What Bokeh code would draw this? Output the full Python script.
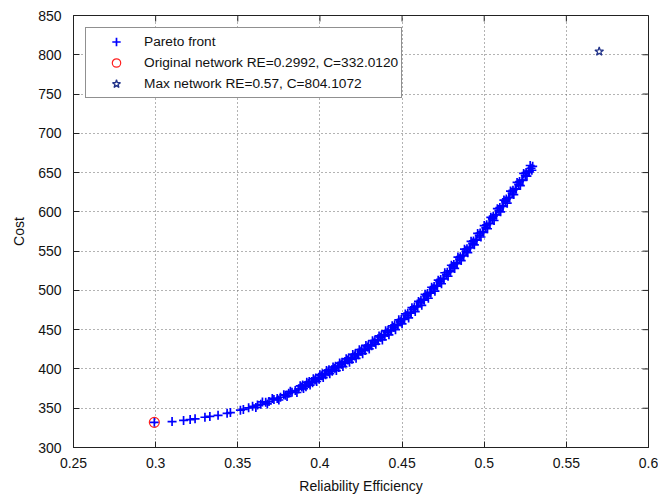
import math
from bokeh.plotting import figure
from bokeh.models import FixedTicker, Range1d
from bokeh.embed import file_html
from bokeh.resources import INLINE

# ---- data ----
pareto_re_a = [
    0.2992, 0.3100, 0.3170, 0.3210, 0.3240, 0.3300, 0.3330, 0.3380, 0.3435, 0.3455,
    0.3516, 0.3534, 0.3566, 0.3590, 0.3620, 0.3640, 0.3670, 0.3690, 0.3720, 0.3740,
    0.3760, 0.3790, 0.3810, 0.3830, 0.3850, 0.3870, 0.3890, 0.3910, 0.3930, 0.3950,
    0.3970, 0.3990, 0.4010, 0.4030, 0.4050, 0.4070, 0.4090, 0.4110, 0.4130, 0.4150,
    0.4170, 0.4190, 0.4210, 0.4230, 0.4250, 0.4270, 0.4290, 0.4310, 0.4330, 0.4350,
    0.4370, 0.4390, 0.4410, 0.4430, 0.4450, 0.4470, 0.4490, 0.4510, 0.4530, 0.4550,
    0.4570, 0.4590, 0.4610, 0.4630, 0.4650, 0.4670, 0.4690, 0.4710, 0.4730, 0.4750,
    0.4770, 0.4790, 0.4810, 0.4830, 0.4850, 0.4870, 0.4890, 0.4910, 0.4930, 0.4950,
    0.4970, 0.4990, 0.5010, 0.5030, 0.5050, 0.5070, 0.5090, 0.5110, 0.5130, 0.5150,
    0.5170, 0.5190, 0.5210, 0.5230, 0.5250, 0.5270, 0.5285, 0.5295,
]
pareto_cost_a = [
    332.0, 333.0, 334.5, 335.5, 336.5, 338.5, 339.5, 341.0, 343.5, 344.5,
    347.5, 348.5, 350.5, 352.5, 354.0, 355.0, 357.5, 358.5, 361.0, 362.5,
    364.0, 366.5, 369.0, 370.5, 372.5, 374.5, 377.0, 379.0, 381.5, 384.0,
    386.0, 388.5, 391.5, 394.0, 396.5, 398.5, 401.0, 403.5, 406.0, 409.0,
    411.5, 414.0, 416.5, 419.5, 422.5, 425.0, 428.0, 431.0, 434.0, 437.0,
    440.5, 443.5, 446.5, 449.5, 453.0, 456.5, 460.0, 464.0, 468.0, 472.0,
    476.0, 480.0, 484.5, 488.5, 493.0, 497.5, 502.0, 506.5, 511.0, 515.5,
    520.0, 525.0, 530.0, 535.0, 540.0, 545.0, 550.0, 555.0, 560.0, 565.0,
    570.0, 575.0, 580.0, 585.5, 591.0, 596.5, 602.0, 607.5, 613.0, 618.5,
    624.0, 629.5, 635.0, 640.5, 646.5, 652.0, 655.5, 658.0,
]
pareto_re_b = [
    0.3610, 0.3650, 0.3680, 0.3710, 0.3750, 0.3780, 0.3800, 0.3820, 0.3860, 0.3880,
    0.3900, 0.3920, 0.3940, 0.3960, 0.3980, 0.4000, 0.4020, 0.4040, 0.4060, 0.4080,
    0.4100, 0.4120, 0.4140, 0.4160, 0.4180, 0.4200, 0.4220, 0.4240, 0.4260, 0.4280,
    0.4300, 0.4320, 0.4340, 0.4360, 0.4380, 0.4400, 0.4420, 0.4440, 0.4460, 0.4480,
    0.4500, 0.4520, 0.4540, 0.4560, 0.4580, 0.4600, 0.4620, 0.4640, 0.4660, 0.4680,
    0.4700, 0.4720, 0.4740, 0.4760, 0.4780, 0.4800, 0.4820, 0.4840, 0.4860, 0.4880,
    0.4900, 0.4920, 0.4940, 0.4960, 0.4980, 0.5000, 0.5020, 0.5040, 0.5060, 0.5080,
    0.5100, 0.5120, 0.5140, 0.5160, 0.5180, 0.5200, 0.5220, 0.5240, 0.5260, 0.5280,
    0.5290,
]
pareto_cost_b = [
    351.0, 358.0, 355.5, 362.5, 360.5, 367.0, 365.0, 371.5, 370.0, 378.5,
    375.0, 383.0, 379.5, 387.5, 384.0, 392.5, 389.0, 398.0, 394.0, 402.5,
    398.0, 407.5, 403.0, 413.0, 408.5, 418.5, 413.5, 424.5, 419.5, 430.0,
    425.5, 436.0, 431.5, 442.0, 437.0, 448.5, 443.5, 455.0, 450.0, 462.5,
    457.5, 470.0, 465.0, 478.0, 473.0, 486.0, 481.0, 495.0, 490.0, 504.0,
    499.0, 513.0, 508.5, 522.5, 518.0, 532.0, 528.0, 542.5, 538.0, 552.5,
    548.0, 562.5, 558.0, 572.5, 568.0, 582.5, 578.5, 593.0, 589.0, 604.0,
    600.0, 615.0, 611.0, 626.5, 622.0, 637.5, 633.5, 649.0, 645.5, 659.0,
    653.0,
]
pareto_re_c = [
    0.3895, 0.3915, 0.3935, 0.3955, 0.3975, 0.3995, 0.4015, 0.4035, 0.4055, 0.4075,
    0.4095, 0.4115, 0.4135, 0.4155, 0.4175, 0.4195, 0.4215, 0.4235, 0.4255, 0.4275,
    0.4295, 0.4315, 0.4335, 0.4355, 0.4375, 0.4395, 0.4415, 0.4435, 0.4455, 0.4475,
    0.4495, 0.4515, 0.4535, 0.4555, 0.4575, 0.4595, 0.4615, 0.4635, 0.4655, 0.4675,
    0.4695, 0.4715, 0.4735, 0.4755, 0.4775, 0.4795, 0.4815, 0.4835, 0.4855, 0.4875,
    0.4895, 0.4915, 0.4935, 0.4955, 0.4975, 0.4995, 0.5015, 0.5035, 0.5055, 0.5075,
    0.5095, 0.5115, 0.5135, 0.5155, 0.5175, 0.5195, 0.5215, 0.5235, 0.5255, 0.5275,
]
pareto_cost_c = [
    379.5, 377.5, 384.0, 382.5, 388.5, 387.0, 394.0, 392.5, 399.0, 397.0,
    403.5, 402.0, 408.5, 407.5, 414.0, 412.5, 419.0, 418.0, 425.0, 423.5,
    430.5, 429.5, 436.5, 436.0, 443.0, 442.0, 449.0, 448.5, 456.0, 455.5,
    463.0, 463.0, 471.0, 471.0, 479.0, 479.0, 487.5, 487.5, 496.0, 496.5,
    505.0, 505.5, 514.0, 514.5, 523.0, 524.0, 533.0, 534.0, 543.0, 544.0,
    553.0, 554.0, 563.0, 564.0, 573.0, 574.0, 583.5, 585.0, 594.5, 596.0,
    605.5, 607.0, 616.5, 618.0, 627.5, 629.0, 638.5, 640.0, 650.0, 651.0,
]
pareto_re = pareto_re_a + pareto_re_b + pareto_re_c
pareto_cost = pareto_cost_a + pareto_cost_b + pareto_cost_c

orig_re = [0.2992]
orig_cost = [332.0120]
max_re = [0.57]
max_cost = [804.1072]

x_ticks = [0.25, 0.3, 0.35, 0.4, 0.45, 0.5, 0.55, 0.6]
x_tick_labels = ["0.25", "0.3", "0.35", "0.4", "0.45", "0.5", "0.55", "0.6"]
y_ticks = [300, 350, 400, 450, 500, 550, 600, 650, 700, 750, 800, 850]
y_tick_labels = [str(v) for v in y_ticks]
x_lim = (0.25, 0.6)
y_lim = (300, 850)

FONT = "Liberation Sans"
AX = "#222222"
TXT = "#111111"

p = figure(width=658, height=500,
           x_range=Range1d(*x_lim), y_range=Range1d(*y_lim),
           output_backend="svg", toolbar_location=None,
           min_border_left=73, min_border_right=10,
           min_border_top=15, min_border_bottom=53)

p.background_fill_color = "white"
p.border_fill_color = "white"
p.outline_line_color = AX
p.outline_line_width = 1

# grid
p.xgrid.ticker = FixedTicker(ticks=x_ticks)
p.ygrid.ticker = FixedTicker(ticks=y_ticks)
for g in (p.xgrid[0], p.ygrid[0]):
    g.grid_line_color = "#666666"
    g.grid_line_dash = "1 3"
    g.grid_line_width = 1

# inner ticks on the top and right edges of the box (clipped to the frame)
p.scatter(x_ticks, [y_lim[1]] * len(x_ticks), marker="dash", angle=math.pi / 2,
          size=12, line_color=AX, line_width=1)
p.scatter([x_lim[1]] * len(y_ticks), y_ticks, marker="dash",
          size=12, line_color=AX, line_width=1)

# data
p.scatter(pareto_re, pareto_cost, marker="cross", size=9,
          line_color="#0000ff", line_width=1.7, legend_label="Pareto front")
p.scatter(orig_re, orig_cost, marker="circle", size=10, fill_color=None,
          line_color="#ff2020", line_width=1.2,
          legend_label=f"Original network RE={orig_re[0]}, C={orig_cost[0]:.4f}")
p.scatter(max_re, max_cost, marker="star", size=9, fill_color=None,
          line_color="#23348a", line_width=1.3,
          legend_label=f"Max network RE={max_re[0]}, C={max_cost[0]:.4f}")


def style_axis(ax, ticks, labels):
    ax.ticker = FixedTicker(ticks=ticks)
    ax.major_label_overrides = {t: l for t, l in zip(ticks, labels)}
    ax.axis_line_color = AX
    ax.major_tick_line_color = AX
    ax.major_tick_in = 6
    ax.major_tick_out = 0
    ax.minor_tick_line_color = None
    ax.major_label_text_font = FONT
    ax.major_label_text_font_size = "14px"
    ax.major_label_text_color = TXT
    ax.axis_label_text_font = FONT
    ax.axis_label_text_font_size = "14px"
    ax.axis_label_text_font_style = "normal"
    ax.axis_label_text_color = TXT


style_axis(p.xaxis[0], x_ticks, x_tick_labels)
p.xaxis[0].axis_label = "Reliability Efficiency"
p.xaxis[0].major_label_standoff = 10
p.xaxis[0].axis_label_standoff = 7

style_axis(p.yaxis[0], y_ticks, y_tick_labels)
p.yaxis[0].axis_label = "Cost"
p.yaxis[0].major_label_standoff = 12
p.yaxis[0].axis_label_standoff = 8

lg = p.legend[0]
lg.location = (12, 349)
lg.label_text_font = FONT
lg.label_text_font_size = "13.7px"
lg.label_text_color = TXT
lg.label_height = 21
lg.glyph_height = 21
lg.glyph_width = 54
lg.label_standoff = 1
lg.padding = 3
lg.spacing = 0
lg.margin = 0
lg.border_line_color = AX
lg.border_line_width = 1
lg.background_fill_color = "white"
lg.background_fill_alpha = 1.0

open("out.html", "w").write(file_html(p, INLINE))
